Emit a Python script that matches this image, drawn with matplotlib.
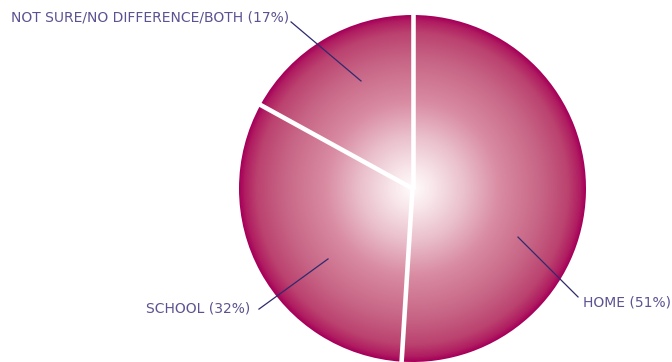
import numpy as np
import matplotlib.pyplot as plt
from matplotlib.colors import LinearSegmentedColormap

labels = ["HOME (51%)", "SCHOOL (32%)", "NOT SURE/NO DIFFERENCE/BOTH (17%)"]
shares = [51, 32, 17]

# leader line (inner point, outer point) and text anchor, in pie radius units
inner_pts = [(0.608, -0.280), (-0.487, -0.406), (-0.297, 0.620)]
outer_pts = [(0.954, -0.625), (-0.885, -0.695), (-0.700, 0.960)]
text_pts = [(0.985, -0.655), (-0.935, -0.690), (-0.712, 0.985)]
text_ha = ["left", "right", "right"]

text_color = "#5b5391"
line_color = "#2e2a6e"

fig = plt.figure(figsize=(6.72, 3.62), dpi=100)
ax = fig.add_axes([0, 0, 1, 1])

wedges, _ = ax.pie(shares, startangle=90, counterclock=False, radius=1.0,
                   center=(0, 0), frame=True,
                   wedgeprops=dict(linewidth=0, facecolor="none"))
ax.set_xlim(-412.5 / 173.5, (672 - 412.5) / 173.5)
ax.set_ylim((188.5 - 362) / 173.5, 188.5 / 173.5)
ax.set_aspect("equal")
ax.axis("off")

# radial shading from a white centre to crimson rim
cmap = LinearSegmentedColormap.from_list("rim", [
    (0.00, "#fffbfc"),
    (0.12, "#f8e6ea"),
    (0.30, "#eac0cc"),
    (0.50, "#d98ca3"),
    (0.75, "#c76485"),
    (0.90, "#bb426f"),
    (0.97, "#b01d61"),
    (1.00, "#a6005a"),
])
n = 600
g = np.linspace(-1, 1, n)
xx, yy = np.meshgrid(g, g)
rr = np.sqrt(xx ** 2 + yy ** 2)
for w in wedges:
    im = ax.imshow(rr, cmap=cmap, vmin=0, vmax=1, extent=(-1, 1, -1, 1),
                   origin="lower", interpolation="bilinear", zorder=1)
    im.set_clip_path(w)

# white separators between slices
bounds = np.cumsum([0] + shares)[:-1]
for b in bounds:
    ang = np.deg2rad(90 - 360 * b / sum(shares))
    ax.plot([0, 1.02 * np.cos(ang)], [0, 1.02 * np.sin(ang)],
            color="white", lw=3.3, solid_capstyle="butt", zorder=3)

for lab, p0, p1, tp, ha in zip(labels, inner_pts, outer_pts, text_pts, text_ha):
    ax.plot([p0[0], p1[0]], [p0[1], p1[1]], color=line_color, lw=0.9, zorder=4)
    ax.text(tp[0], tp[1], lab, ha=ha, va="center", color=text_color,
            fontsize=10, fontfamily="DejaVu Sans", zorder=5)

fig.savefig("out.png", dpi=100)
